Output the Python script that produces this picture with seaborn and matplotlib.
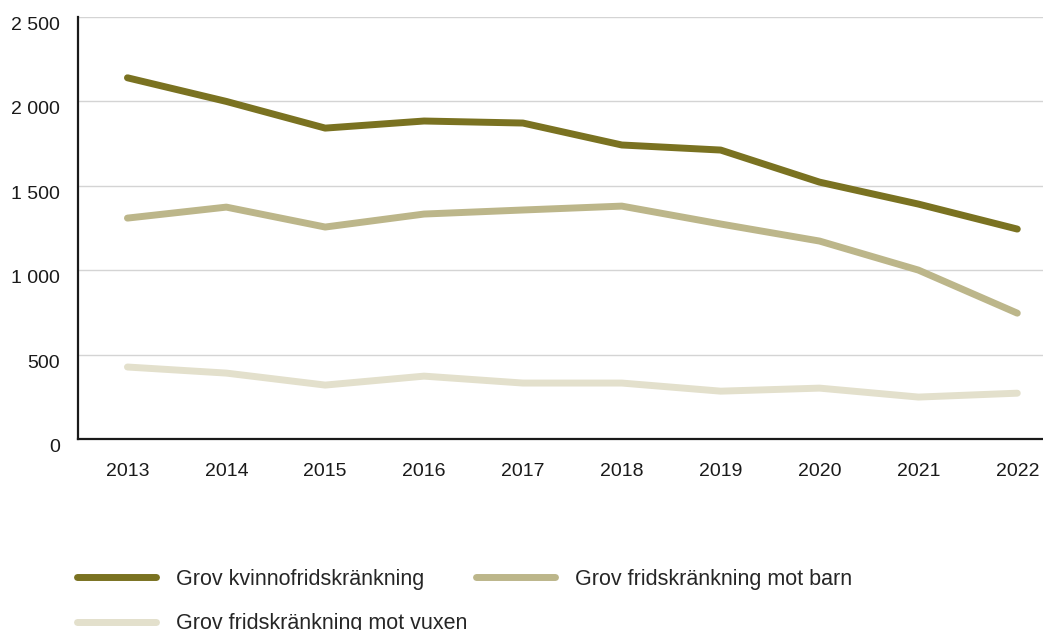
import matplotlib
matplotlib.use("Agg")
import matplotlib.pyplot as plt
import matplotlib.ticker as mticker
import pandas as pd
import seaborn as sns

years = [2013, 2014, 2015, 2016, 2017, 2018, 2019, 2020, 2021, 2022]
kvinnofrid = [2140, 2000, 1842, 1884, 1872, 1742, 1712, 1522, 1392, 1244]
mot_barn = [1309, 1374, 1256, 1333, 1357, 1380, 1274, 1173, 1001, 746]
mot_vuxen = [427, 391, 320, 373, 332, 332, 284, 302, 249, 272]

series = {
    "Grov kvinnofridskränkning": kvinnofrid,
    "Grov fridskränkning mot barn": mot_barn,
    "Grov fridskränkning mot vuxen": mot_vuxen,
}
colors = ["#7a7221", "#bcb68a", "#e3e0cc"]

df = pd.concat(
    [pd.DataFrame({"year": years, "value": v, "serie": k}) for k, v in series.items()],
    ignore_index=True,
)

sns.set_theme(style="white")
plt.rcParams["font.family"] = ["Liberation Sans", "DejaVu Sans"]

fig = plt.figure(figsize=(10.43, 6.3), dpi=100)
ax = fig.add_axes([0.0748, 0.303, 0.9252, 0.670])

sns.lineplot(data=df, x="year", y="value", hue="serie", palette=colors,
             linewidth=5, ax=ax, legend=False, solid_capstyle="round")

ax.set_xlim(2012.5, 2022.26)
ax.set_ylim(0, 2500)
ax.set_xticks(years)
ax.set_yticks(range(0, 2501, 500))
ax.yaxis.set_major_formatter(mticker.FuncFormatter(lambda v, p: f"{int(v):,}".replace(",", " ")))
ax.grid(axis="y", color="#d4d4d4", linewidth=1)
ax.set_axisbelow(True)
ax.set_xlabel("")
ax.set_ylabel("")

for s in ["top", "right"]:
    ax.spines[s].set_visible(False)
for s in ["left", "bottom"]:
    ax.spines[s].set_color("#1a1a1a")
    ax.spines[s].set_linewidth(1.6)

ax.tick_params(axis="x", direction="in", length=7, width=2, color="#1a1a1a",
               pad=17, labelsize=14, labelcolor="#1a1a1a")
ax.tick_params(axis="y", length=0, pad=13, labelsize=14, labelcolor="#1a1a1a")
for lbl in ax.get_yticklabels():
    lbl.set_verticalalignment("top")

# column-wise fill: reorder so row 1 = kvinno, barn; row 2 = vuxen
names = list(series.keys())
order = [0, 2, 1]
handles = [plt.Line2D([], [], color=colors[i], linewidth=5, solid_capstyle="round") for i in order]
fig.legend(handles, [names[i] for i in order], loc="upper left", bbox_to_anchor=(0.055, 0.128),
           ncol=2, frameon=False, handlelength=3.7, handletextpad=0.9, columnspacing=0.4,
           labelspacing=1.1, prop={"size": 15.5})

fig.savefig("out.png", dpi=100)
